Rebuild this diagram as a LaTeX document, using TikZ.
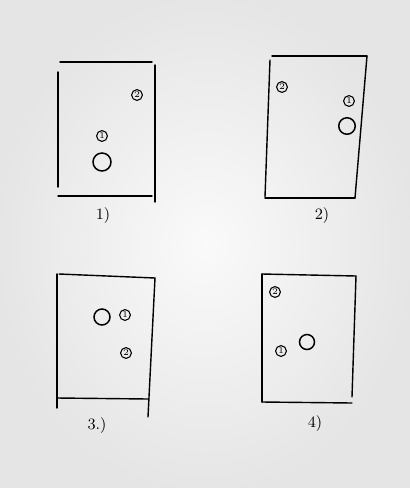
\documentclass[tikz,border=0pt]{standalone}
\usetikzlibrary{calc}

\begin{document}
\begin{tikzpicture}[x=0.02cm, y=-0.02cm,
    pen/.style={line width=0.8pt, line cap=round},
    marker/.style={draw, circle, line width=0.6pt, inner sep=0.5pt, font=\fontsize{5}{5}\selectfont},
    ball/.style={draw, circle, line width=0.85pt, inner sep=0pt},
    caption/.style={font=\small}]
  \shade[inner color=black!2, outer color=black!10] (0,0) rectangle (410,488);

  % sheet 1
  \draw[pen] (60,62) -- (152,62);
  \draw[pen] (58,72) -- (58,187);
  \draw[pen] (155,65) -- (155,202);
  \draw[pen] (58,196) -- (152,196);
  \node[marker] (twoA) at (137,95) {2};
  \node[marker] (oneA) at (102,136) {1};
  \node[ball, minimum size=0.36cm] (bigA) at (102,162) {};
  \node[caption] (capA) at (103,216) {1)};

  % sheet 2
  \draw[pen] (272,56) -- (367,56);
  \draw[pen] (270,60) -- (265,197);
  \draw[pen] (367,56) -- (355,198);
  \draw[pen] (265,198) -- (355,198);
  \node[marker] (twoB) at (282,87) {2};
  \node[marker] (oneB) at (349,101) {1};
  \node[ball, minimum size=0.33cm] (bigB) at (347,126) {};
  \node[caption] (capB) at (322,216) {2)};

  % sheet 3
  \draw[pen] (59,274) -- (155,278);
  \draw[pen] (57,274) -- (57,408);
  \draw[pen] (155,278) -- (148,417);
  \draw[pen] (57,398) -- (148,399);
  \node[ball, minimum size=0.32cm] (bigC) at (102,317) {};
  \node[marker] (oneC) at (125,315) {1};
  \node[marker] (twoC) at (126,353) {2};
  \node[caption] (capC) at (97,426) {3.)};

  % sheet 4
  \draw[pen] (262,274) -- (356,276);
  \draw[pen] (262,274) -- (262,402);
  \draw[pen] (356,276) -- (352,397);
  \draw[pen] (262,402) -- (352,403);
  \node[marker] (twoD) at (275,292) {2};
  \node[marker] (oneD) at (281,351) {1};
  \node[ball, minimum size=0.3cm] (bigD) at (307,342) {};
  \node[caption] (capD) at (315,424) {4)};
\end{tikzpicture}
\end{document}
